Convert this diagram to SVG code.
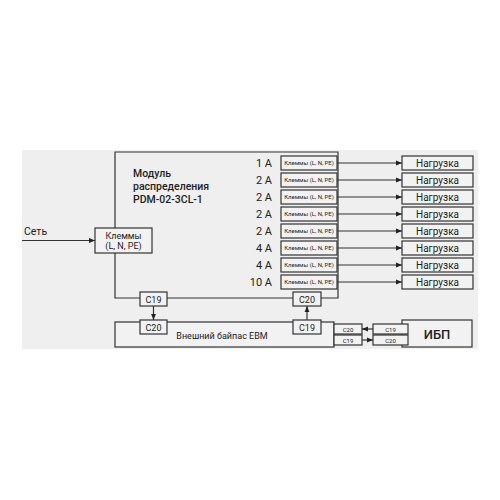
<svg xmlns="http://www.w3.org/2000/svg" width="500" height="500" viewBox="0 0 500 500">
<defs>
<marker id="ah" viewBox="0 0 10 10" refX="10" refY="5" markerWidth="6" markerHeight="6" markerUnits="userSpaceOnUse" orient="auto"><path d="M0,1 L10,5 L0,9 z" fill="#222"/></marker>
<style>
.bx{fill:#f2f2f2;stroke:#333;stroke-width:1.2}
.ln{fill:none;stroke:#333;stroke-width:1.2}
.t{font-family:Roboto,"Liberation Sans",sans-serif;fill:#222}
.s{font-size:6px;text-anchor:middle}
.m{font-size:9px;text-anchor:middle}
.a{font-size:11px;text-anchor:end}
.n{font-size:10px;text-anchor:middle}
</style>
</defs>
<rect x="0" y="0" width="500" height="500" fill="#fff"/>
<rect x="22" y="150" width="456" height="199" fill="#efefef"/>
<g id="module">
<path class="ln" d="M115,228 V152 H338 V298 H115 V253"/>
<text class="t" x="133" y="177" font-size="10.5" font-weight="500">Модуль</text>
<text class="t" x="133" y="190" font-size="10.5" font-weight="500">распределения</text>
<text class="t" x="133" y="203" font-size="10.5" font-weight="500">PDM-02-3CL-1</text>
</g>
<g id="input">
<rect class="bx" x="95" y="228" width="57" height="25"/>
<text class="t m" x="123.5" y="238.5">Клеммы</text>
<text class="t m" x="123.5" y="249">(L, N, PE)</text>
</g>
<text class="t" x="24" y="235" font-size="10.5">Сеть</text>
<g id="rows">
<g id="r1"><text class="t a" x="272" y="167">1 A</text><rect class="bx" x="281" y="156" width="56" height="14"/><text class="t s" x="309" y="165">Клеммы (L, N, PE)</text><rect class="bx" x="402" y="156" width="71" height="14"/><text class="t n" x="437.5" y="166.5">Нагрузка</text></g>
<g id="r2"><text class="t a" x="272" y="184">2 A</text><rect class="bx" x="281" y="173" width="56" height="14"/><text class="t s" x="309" y="182">Клеммы (L, N, PE)</text><rect class="bx" x="402" y="173" width="71" height="14"/><text class="t n" x="437.5" y="183.5">Нагрузка</text></g>
<g id="r3"><text class="t a" x="272" y="201">2 A</text><rect class="bx" x="281" y="190" width="56" height="14"/><text class="t s" x="309" y="199">Клеммы (L, N, PE)</text><rect class="bx" x="402" y="190" width="71" height="14"/><text class="t n" x="437.5" y="200.5">Нагрузка</text></g>
<g id="r4"><text class="t a" x="272" y="218">2 A</text><rect class="bx" x="281" y="207" width="56" height="14"/><text class="t s" x="309" y="216">Клеммы (L, N, PE)</text><rect class="bx" x="402" y="207" width="71" height="14"/><text class="t n" x="437.5" y="217.5">Нагрузка</text></g>
<g id="r5"><text class="t a" x="272" y="235">2 A</text><rect class="bx" x="281" y="224" width="56" height="14"/><text class="t s" x="309" y="233">Клеммы (L, N, PE)</text><rect class="bx" x="402" y="224" width="71" height="14"/><text class="t n" x="437.5" y="234.5">Нагрузка</text></g>
<g id="r6"><text class="t a" x="272" y="252">4 A</text><rect class="bx" x="281" y="241" width="56" height="14"/><text class="t s" x="309" y="250">Клеммы (L, N, PE)</text><rect class="bx" x="402" y="241" width="71" height="14"/><text class="t n" x="437.5" y="251.5">Нагрузка</text></g>
<g id="r7"><text class="t a" x="272" y="269">4 A</text><rect class="bx" x="281" y="258" width="56" height="14"/><text class="t s" x="309" y="267">Клеммы (L, N, PE)</text><rect class="bx" x="402" y="258" width="71" height="14"/><text class="t n" x="437.5" y="268.5">Нагрузка</text></g>
<g id="r8"><text class="t a" x="272" y="286">10 A</text><rect class="bx" x="281" y="275" width="56" height="14"/><text class="t s" x="309" y="284">Клеммы (L, N, PE)</text><rect class="bx" x="402" y="275" width="71" height="14"/><text class="t n" x="437.5" y="285.5">Нагрузка</text></g>
</g>
<g id="bypass">
<rect class="bx" x="115" y="322" width="219" height="25"/>
<text class="t m" x="222" y="339">Внешний байпас ЕВМ</text>
</g>
<g id="ups">
<rect class="bx" x="402" y="320" width="70" height="27"/>
<text class="t" x="437" y="338.5" font-size="13" font-weight="500" text-anchor="middle">ИБП</text>
</g>
<g id="plugs">
<g id="p1"><rect class="bx" x="140" y="292" width="27" height="14"/><text class="t m" x="153.5" y="302.5">C19</text></g>
<g id="p2"><rect class="bx" x="293" y="292" width="28" height="14"/><text class="t m" x="307" y="302.5">C20</text></g>
<g id="p3"><rect class="bx" x="140" y="320" width="27" height="14"/><text class="t m" x="153.5" y="330.5">C20</text></g>
<g id="p4"><rect class="bx" x="293" y="320" width="28" height="14"/><text class="t m" x="307" y="330.5">C19</text></g>
<g id="p5"><rect class="bx" x="334" y="324" width="28" height="10"/><text class="t s" x="348" y="331.5">C20</text></g>
<g id="p6"><rect class="bx" x="334" y="335" width="28" height="10"/><text class="t s" x="348" y="342.5">C19</text></g>
<g id="p7"><rect class="bx" x="373" y="324" width="35" height="10"/><text class="t s" x="390.5" y="331.5">C19</text></g>
<g id="p8"><rect class="bx" x="373" y="335" width="35" height="10"/><text class="t s" x="390.5" y="342.5">C20</text></g>
</g>
<g id="connectors" class="ln">
<line x1="22" y1="240.5" x2="95" y2="240.5" marker-end="url(#ah)"/>
<line x1="337" y1="163" x2="402" y2="163" marker-end="url(#ah)"/>
<line x1="337" y1="180" x2="402" y2="180" marker-end="url(#ah)"/>
<line x1="337" y1="197" x2="402" y2="197" marker-end="url(#ah)"/>
<line x1="337" y1="214" x2="402" y2="214" marker-end="url(#ah)"/>
<line x1="337" y1="231" x2="402" y2="231" marker-end="url(#ah)"/>
<line x1="337" y1="248" x2="402" y2="248" marker-end="url(#ah)"/>
<line x1="337" y1="265" x2="402" y2="265" marker-end="url(#ah)"/>
<line x1="337" y1="282" x2="402" y2="282" marker-end="url(#ah)"/>
<line x1="153.5" y1="306" x2="153.5" y2="320" marker-end="url(#ah)"/>
<line x1="307" y1="320" x2="307" y2="306" marker-end="url(#ah)"/>
<line x1="373" y1="329" x2="362" y2="329" marker-end="url(#ah)"/>
<line x1="362" y1="340" x2="373" y2="340" marker-end="url(#ah)"/>
</g>
</svg>
